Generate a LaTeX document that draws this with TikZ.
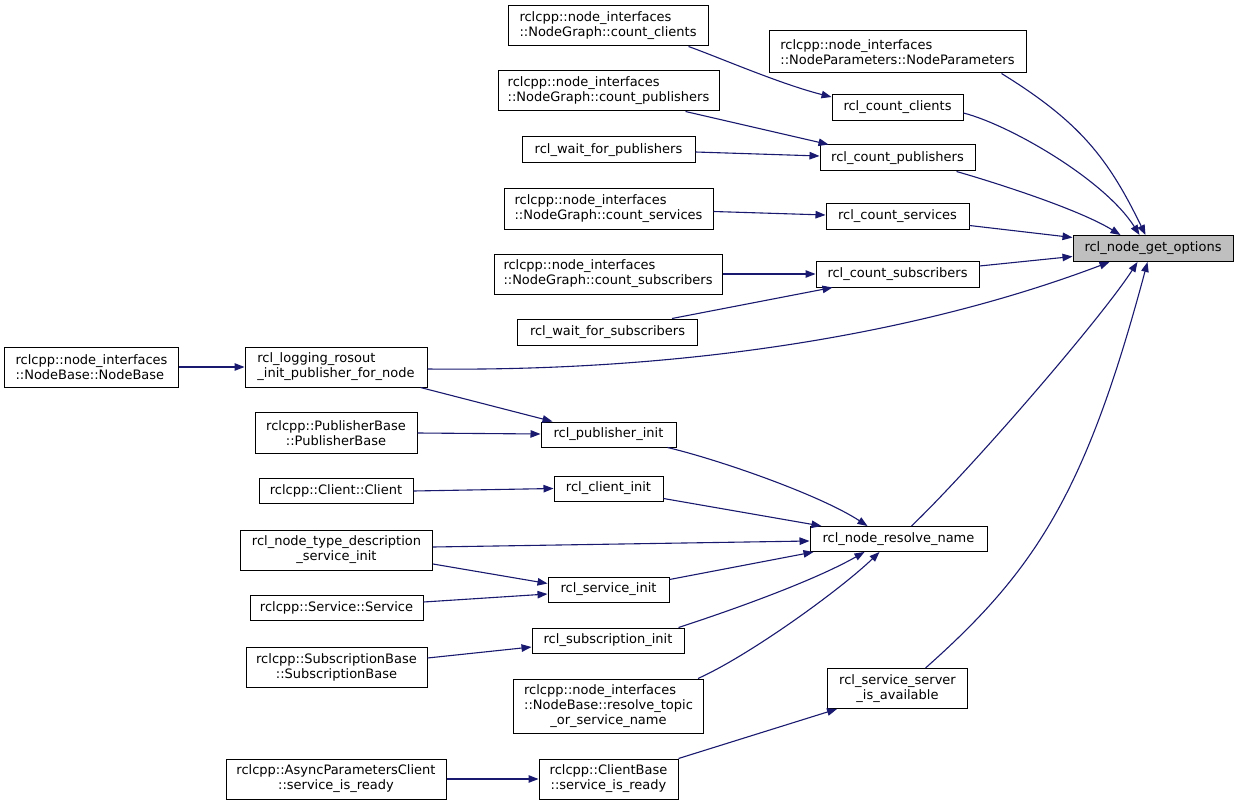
\documentclass[tikz,border=0pt]{standalone}
\usepackage{fontspec}
\setmainfont{DejaVu Sans}
\usetikzlibrary{arrows.meta,calc}
\definecolor{mblue}{RGB}{25,25,112}
\definecolor{tgray}{RGB}{191,191,191}
\begin{document}
\begin{tikzpicture}[x=1pt,y=-1pt,
  box/.style={draw=black,line width=1pt,inner sep=0pt,fill=white,
    font=\fontsize{13}{15}\selectfont},
  tgt/.style={box,fill=tgray},
  lnk/.style={draw=mblue,line width=1.1pt,-{Triangle[length=10pt,width=7.5pt]}}]
\fill[white] (0,0) rectangle (1239,805);
\useasboundingbox (0,0) rectangle (1239,805);
% nodes
\node[tgt,minimum width=160pt,minimum height=26pt] (tgt) at (1153,248.5) {rcl\_node\_get\_options};
\node[box,align=left,minimum width=200pt,minimum height=40pt] (ngcc) at (608,26) {rclcpp::node\_interfaces\\::NodeGraph::count\_clients};
\node[box,align=left,minimum width=257pt,minimum height=42pt] (npnp) at (897.5,52) {rclcpp::node\_interfaces\\::NodeParameters::NodeParameters};
\node[box,align=left,minimum width=221pt,minimum height=40pt] (ngcp) at (608.5,91) {rclcpp::node\_interfaces\\::NodeGraph::count\_publishers};
\node[box,minimum width=131pt,minimum height=26pt] (rcc) at (897.5,107.5) {rcl\_count\_clients};
\node[box,minimum width=173pt,minimum height=26pt] (rwfp) at (608.5,150) {rcl\_wait\_for\_publishers};
\node[box,minimum width=155pt,minimum height=26pt] (rcp) at (897.5,158) {rcl\_count\_publishers};
\node[box,align=left,minimum width=209pt,minimum height=40pt] (ngcs) at (608.5,209) {rclcpp::node\_interfaces\\::NodeGraph::count\_services};
\node[box,minimum width=143pt,minimum height=26pt] (rcs) at (897.5,216.5) {rcl\_count\_services};
\node[box,align=left,minimum width=228pt,minimum height=40pt] (ngcsub) at (608,274) {rclcpp::node\_interfaces\\::NodeGraph::count\_subscribers};
\node[box,minimum width=163pt,minimum height=26pt] (rcsub) at (897.5,274) {rcl\_count\_subscribers};
\node[box,minimum width=180pt,minimum height=26pt] (rwfs) at (607.5,332) {rcl\_wait\_for\_subscribers};
\node[box,align=left,minimum width=174pt,minimum height=40pt] (nbnb) at (91.5,367) {rclcpp::node\_interfaces\\::NodeBase::NodeBase};
\node[box,align=left,minimum width=182pt,minimum height=40pt] (rlr) at (336,367) {rcl\_logging\_rosout\\\_init\_publisher\_for\_node};
\node[box,align=center,minimum width=162pt,minimum height=41pt] (pbpb) at (336,433) {rclcpp::PublisherBase\\::PublisherBase};
\node[box,minimum width=135pt,minimum height=25pt] (rpi) at (608.5,434.5) {rcl\_publisher\_init};
\node[box,minimum width=154pt,minimum height=25pt] (cc) at (336,491) {rclcpp::Client::Client};
\node[box,minimum width=109pt,minimum height=25pt] (rci) at (608.5,488.5) {rcl\_client\_init};
\node[box,align=center,minimum width=192pt,minimum height=40pt] (rntd) at (336.5,550) {rcl\_node\_type\_description\\\_service\_init};
\node[box,minimum width=177pt,minimum height=25pt] (rnrn) at (898.5,539) {rcl\_node\_resolve\_name};
\node[box,minimum width=121pt,minimum height=25pt] (rsi) at (608.5,589.5) {rcl\_service\_init};
\node[box,minimum width=173pt,minimum height=25pt] (ss) at (336.5,608) {rclcpp::Service::Service};
\node[box,minimum width=152pt,minimum height=25pt] (rsubi) at (608,640.5) {rcl\_subscription\_init};
\node[box,align=center,minimum width=181pt,minimum height=40pt] (sbsb) at (336.5,667) {rclcpp::SubscriptionBase\\::SubscriptionBase};
\node[box,minimum width=190pt,minimum height=54pt] (nbrt) at (608.5,706) {\begin{tabular}{@{}l@{}}rclcpp::node\_interfaces\\::NodeBase::resolve\_topic\\\multicolumn{1}{@{}c@{}}{\_or\_service\_name}\end{tabular}};
\node[box,align=center,minimum width=140pt,minimum height=40pt] (rssia) at (897.5,688.5) {rcl\_service\_server\\\_is\_available};
\node[box,align=center,minimum width=220pt,minimum height=40pt] (apc) at (336,779) {rclcpp::AsyncParametersClient\\::service\_is\_ready};
\node[box,align=center,minimum width=139pt,minimum height=40pt] (cbsir) at (608.5,779) {rclcpp::ClientBase\\::service\_is\_ready};
% edges
\draw[lnk] ($(ngcc.south east)+(-20,0)$) .. controls (718,57) and (780,84) .. ($(rcc.north west)+(0,3)$);
\draw[lnk] ($(npnp.south east)+(-25,0)$) .. controls (1080,122) and (1108,158) .. ($(tgt.north west)+(73,0)$);
\draw[lnk] ($(rcc.east)+(0,5.5)$) .. controls (1010,125) and (1105,180) .. ($(tgt.north west)+(67,0)$);
\draw[lnk] ($(rcp.south east)+(-19,0)$) .. controls (1000,184) and (1080,210) .. ($(tgt.north west)+(48,0)$);
\draw[lnk] ($(rcs.east)+(0,9)$) -- ($(tgt.west)+(0,-11)$);
\draw[lnk] ($(rcsub.east)+(0,-8)$) -- ($(tgt.west)+(0,8)$);
\draw[lnk] ($(rlr.east)+(0,2)$) .. controls (700,372) and (930,330) .. ($(tgt.south west)+(37,0)$);
\draw[lnk] ($(rnrn.north)+(13,0)$) .. controls (970,470) and (1100,320) .. ($(tgt.south west)+(65,0)$);
\draw[lnk] ($(rssia.north)+(28,0)$) .. controls (1036,570) and (1086,492) .. ($(tgt.south west)+(75,0)$);
\draw[lnk] ($(ngcp.south east)+(-34,0)$) -- ($(rcp.north west)+(9,0)$);
\draw[lnk] ($(rwfp.east)+(0,2)$) -- ($(rcp.west)+(0,-2)$);
\draw[lnk] ($(ngcs.east)+(0,2.5)$) -- ($(rcs.west)+(0,-1.5)$);
\draw[lnk] (ngcsub.east) -- (rcsub.west);
\draw[lnk] ($(rwfs.north east)+(-26,0)$) -- ($(rcsub.south west)+(17,0)$);
\draw[lnk] (nbnb.east) -- (rlr.west);
\draw[lnk] ($(rlr.south east)+(-7,0)$) -- ($(rpi.north west)+(12,0)$);
\draw[lnk] (pbpb.east) -- ($(rpi.west)+(0,-0.5)$);
\draw[lnk] ($(rpi.south east)+(-9,0)$) .. controls (720,460) and (820,495) .. ($(rnrn.north west)+(58,0)$);
\draw[lnk] (cc.east) -- (rci.west);
\draw[lnk] ($(rci.east)+(0,10)$) -- ($(rnrn.north west)+(12,0)$);
\draw[lnk] ($(rntd.east)+(0,-3)$) -- ($(rnrn.west)+(0,2)$);
\draw[lnk] ($(rntd.east)+(0,14)$) -- ($(rsi.west)+(0,-6)$);
\draw[lnk] ($(ss.east)+(0,-6)$) -- ($(rsi.west)+(0,4.5)$);
\draw[lnk] ($(rsi.east)+(0,-10)$) -- ($(rnrn.south west)+(4,0)$);
\draw[lnk] ($(rsubi.north east)+(-6,0)$) .. controls (720,614) and (810,583) .. ($(rnrn.south west)+(55,0)$);
\draw[lnk] ($(nbrt.north east)+(-6,0)$) .. controls (750,655) and (840,590) .. ($(rnrn.south west)+(70,0)$);
\draw[lnk] ($(sbsb.east)+(0,-9)$) -- ($(rsubi.west)+(0,6.5)$);
\draw[lnk] (cbsir.north east) -- ($(rssia.south west)+(10,0)$);
\draw[lnk] (apc.east) -- (cbsir.west);
\end{tikzpicture}
\end{document}
